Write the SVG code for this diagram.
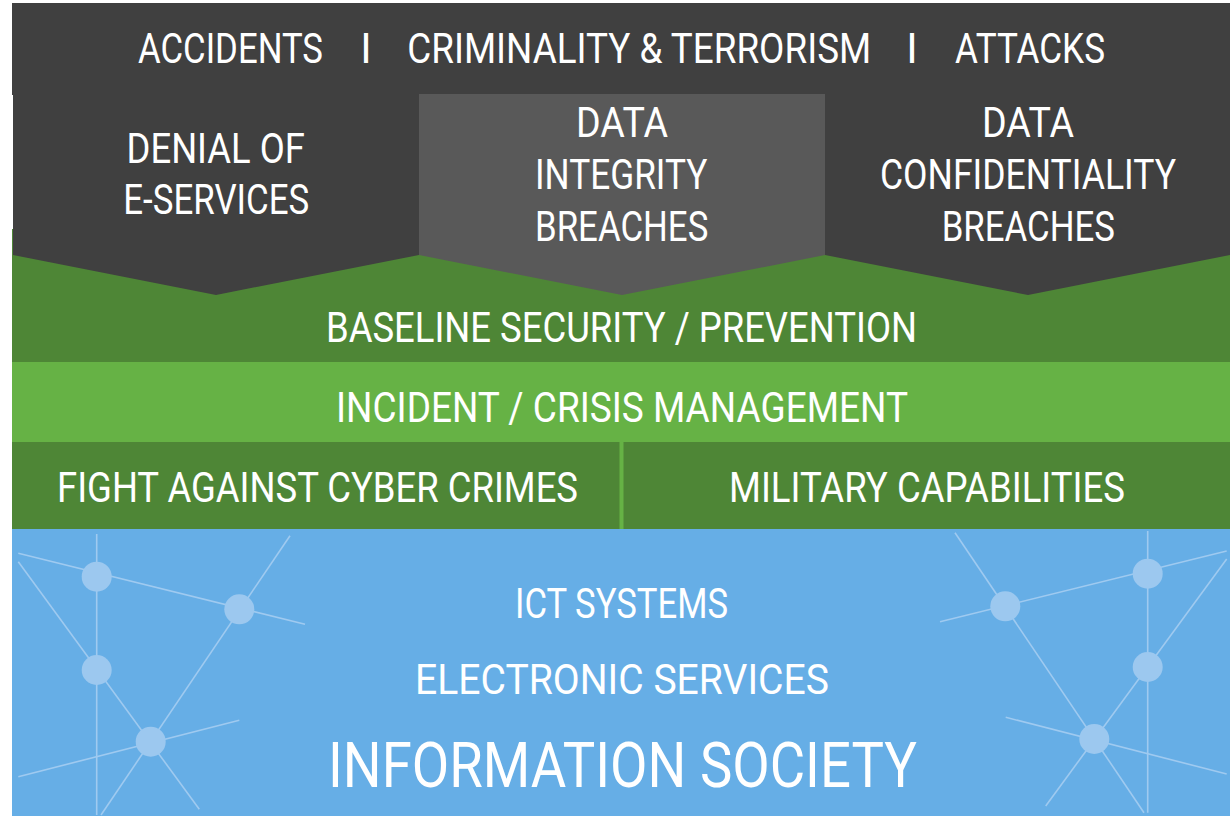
<svg xmlns="http://www.w3.org/2000/svg" width="1230" height="816" viewBox="0 0 1230 816">
<style>
  .t { font-family: Roboto, "Open Sans", "Liberation Sans", sans-serif; fill: #ffffff; font-size: 42px; }
  .big { font-size: 63px; }
  .sep { text-anchor: middle; }
  .net line { stroke: #9fcaf0; stroke-width: 1.6; }
  .net circle { fill: #9cc8ef; }
</style>
<rect x="0" y="0" width="1230" height="816" fill="#ffffff"/>

<!-- layers -->
<g id="information-society">
  <rect x="12" y="529" width="1218" height="287" fill="#66aee6"/>
  <g class="net" id="network-left">
    <line x1="96.7" y1="534" x2="96.7" y2="815"/>
    <line x1="18.3" y1="553.3" x2="305" y2="624.3"/>
    <line x1="18.3" y1="561.7" x2="199.3" y2="809.3"/>
    <line x1="290" y1="535.7" x2="101" y2="815"/>
    <line x1="18.3" y1="776.7" x2="239.3" y2="720.3"/>
    <circle cx="96.7" cy="576.7" r="15"/>
    <circle cx="239.3" cy="609.3" r="15"/>
    <circle cx="96.7" cy="670" r="15"/>
    <circle cx="150.7" cy="741.7" r="15"/>
  </g>
  <g class="net" id="network-right">
    <line x1="1147.7" y1="531" x2="1147.7" y2="812.7"/>
    <line x1="940" y1="621.7" x2="1226.7" y2="551"/>
    <line x1="955" y1="532.7" x2="1144" y2="812.7"/>
    <line x1="1226.7" y1="559" x2="1045.7" y2="806"/>
    <line x1="1005.7" y1="717.3" x2="1226.7" y2="774"/>
    <circle cx="1005.3" cy="606.3" r="15"/>
    <circle cx="1147.7" cy="573.7" r="15"/>
    <circle cx="1147.7" cy="667" r="15"/>
    <circle cx="1094.3" cy="739" r="15"/>
  </g>
  <text class="t" x="515" y="618.3" textLength="213" lengthAdjust="spacingAndGlyphs">ICT SYSTEMS</text>
  <text class="t" x="415" y="694" textLength="414" lengthAdjust="spacingAndGlyphs">ELECTRONIC SERVICES</text>
  <text class="t big" x="328" y="786.7" textLength="589" lengthAdjust="spacingAndGlyphs">INFORMATION SOCIETY</text>
</g>

<g id="fight-cyber-crimes">
  <rect x="12" y="442" width="608" height="87" fill="#4e8636"/>
  <text class="t" x="57" y="502.3" textLength="521" lengthAdjust="spacingAndGlyphs">FIGHT AGAINST CYBER CRIMES</text>
</g>
<g id="military-capabilities">
  <rect x="620" y="442" width="610" height="87" fill="#4e8636"/>
  <rect x="619.5" y="442" width="4" height="87" fill="#66b245"/>
  <text class="t" x="729" y="502.3" textLength="396" lengthAdjust="spacingAndGlyphs">MILITARY CAPABILITIES</text>
</g>

<g id="incident-crisis">
  <rect x="12" y="362" width="1218" height="80" fill="#66b245"/>
  <text class="t" x="336" y="421.7" textLength="572" lengthAdjust="spacingAndGlyphs">INCIDENT / CRISIS MANAGEMENT</text>
</g>

<g id="baseline-security">
  <rect x="12" y="229" width="1218" height="133" fill="#4e8636"/>
  <text class="t" x="326" y="341.5" textLength="591" lengthAdjust="spacingAndGlyphs">BASELINE SECURITY / PREVENTION</text>
</g>

<!-- threats -->
<g id="threats">
  <rect x="12" y="3" width="1218" height="92" fill="#404040"/>
  <text class="t" x="138" y="63.3" textLength="185" lengthAdjust="spacingAndGlyphs">ACCIDENTS</text>
  <text class="t sep" x="366" y="63.3">I</text>
  <text class="t" transform="translate(407.3,63.3) scale(0.867,1)" x="0" y="0" textLength="535" lengthAdjust="spacingAndGlyphs">CRIMINALITY &amp; TERRORISM</text>
  <text class="t sep" x="912" y="63.3">I</text>
  <text class="t" x="955" y="63.3" textLength="150" lengthAdjust="spacingAndGlyphs">ATTACKS</text>
</g>

<g id="denial-of-eservices">
  <polygon points="13,94 419,94 419,255 216,295 13,255" fill="#404040"/>
  <text class="t" x="126.5" y="163.3" textLength="178.5" lengthAdjust="spacingAndGlyphs">DENIAL OF</text>
  <text class="t" x="123.3" y="214.3" textLength="186" lengthAdjust="spacingAndGlyphs">E-SERVICES</text>
</g>

<g id="data-integrity-breaches">
  <polygon points="419,94 825,94 825,255 622,295 419,255" fill="#595959"/>
  <text class="t" x="576" y="137.3" textLength="92" lengthAdjust="spacingAndGlyphs">DATA</text>
  <text class="t" x="535" y="189" textLength="172.3" lengthAdjust="spacingAndGlyphs">INTEGRITY</text>
  <text class="t" x="535" y="240.7" textLength="173.3" lengthAdjust="spacingAndGlyphs">BREACHES</text>
</g>

<g id="data-confidentiality-breaches">
  <polygon points="825,94 1230,94 1230,255 1028,295 825,255" fill="#404040"/>
  <text class="t" x="982" y="137.3" textLength="92" lengthAdjust="spacingAndGlyphs">DATA</text>
  <text class="t" x="880" y="189" textLength="296" lengthAdjust="spacingAndGlyphs">CONFIDENTIALITY</text>
  <text class="t" x="941.7" y="240.7" textLength="173.3" lengthAdjust="spacingAndGlyphs">BREACHES</text>
</g>

<g id="connectors"></g>
</svg>
